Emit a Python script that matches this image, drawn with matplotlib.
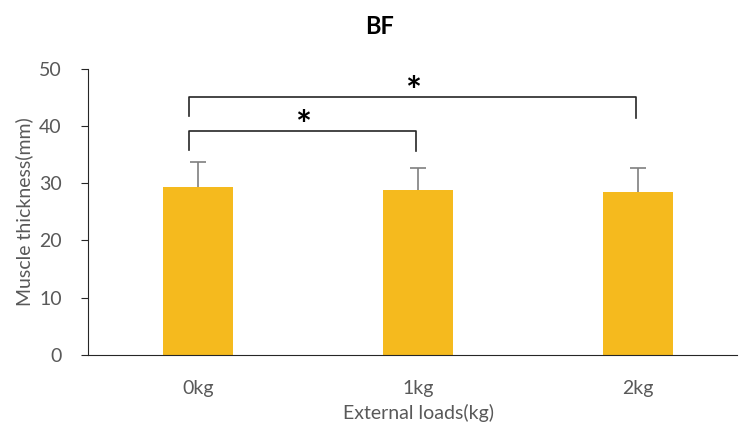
import matplotlib.pyplot as plt

loads = ['0kg', '1kg', '2kg']
thickness = [29.4, 28.8, 28.5]
sd = [4.3, 3.9, 4.2]

# significance brackets: (left idx, right idx, height)
brackets = [(0, 1, 39.2), (0, 2, 45.1)]

plt.rcParams['font.family'] = ['Lato', 'DejaVu Sans']
grey = '#595959'

fig = plt.figure(figsize=(7.4, 4.36), dpi=100)
ax = fig.add_axes([0.119, 0.186, 0.892, 0.656])
ax.spines['bottom'].set_bounds(-0.5, 2.45)

x = range(len(loads))
ax.bar(x, thickness, width=0.32, color='#F5BA1E', zorder=2)
eb = ax.errorbar(x, thickness, yerr=[[0] * len(sd), sd], fmt='none',
                 ecolor='#7f7f7f', elinewidth=1.2, capsize=6, capthick=1.2, zorder=1)
eb[1][0].set_visible(False)  # no lower cap

for l, r, h in brackets:
    xl, xr = l - 0.04, r - 0.01
    ax.plot([xl, xl, xr, xr], [h - 3.4, h, h, h - 3.6], color='#262626', lw=1.2)
    ax.text((xl + xr) / 2, h - 2.3, '*', ha='center', va='bottom',
            fontsize=27, fontweight='bold', color='black')

ax.set_xlim(-0.5, 2.5)
ax.set_ylim(0, 50)
ax.set_yticks(range(0, 51, 10))
ax.set_xticks(list(x))
ax.set_xticklabels(loads)
ax.spines['top'].set_visible(False)
ax.spines['right'].set_visible(False)
ax.spines['left'].set_color('#262626')
ax.spines['bottom'].set_color('#262626')
ax.tick_params(axis='x', length=0, pad=18, labelsize=14, labelcolor=grey)
ax.tick_params(axis='y', length=5, direction='out', pad=14, labelsize=14,
               labelcolor=grey, color='#262626')
ax.set_xlabel('External loads(kg)', fontsize=14, color=grey, labelpad=5)
ax.set_ylabel('Muscle thickness(mm)', fontsize=14, color=grey, labelpad=4)
fig.suptitle('BF', x=0.513, y=0.965, fontsize=17, fontweight='bold')

plt.savefig('out.png')
